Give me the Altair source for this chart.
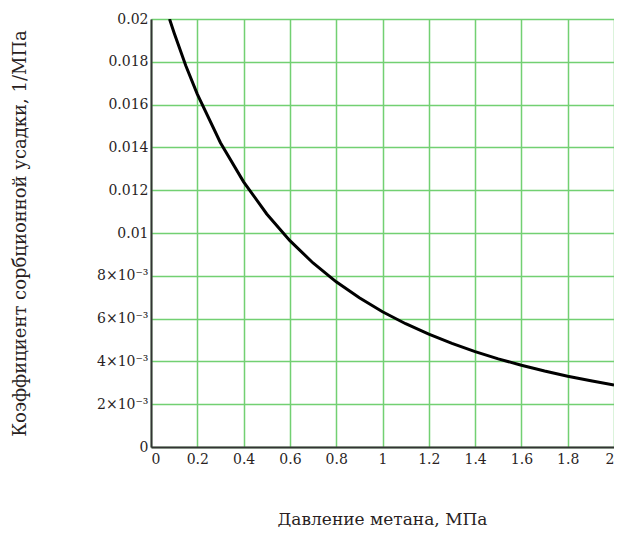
import altair as alt
import pandas as pd

# Pressure of methane, MPa
pressure = [0.08, 0.1, 0.15, 0.2, 0.3, 0.4, 0.5, 0.6, 0.7, 0.8, 0.9, 1.0,
            1.1, 1.2, 1.3, 1.4, 1.5, 1.6, 1.7, 1.8, 1.9, 2.0]
# Sorption shrinkage coefficient, 1/MPa
coef = [0.0200, 0.01935, 0.01783, 0.01649, 0.01422, 0.01239, 0.01089, 0.00964,
        0.00860, 0.00772, 0.00697, 0.00632, 0.00576, 0.00527, 0.00484, 0.00446,
        0.00412, 0.00382, 0.00355, 0.00331, 0.00310, 0.00290]

x_ticks = [0, 0.2, 0.4, 0.6, 0.8, 1.0, 1.2, 1.4, 1.6, 1.8, 2.0]
y_ticks = [0, 0.002, 0.004, 0.006, 0.008, 0.010, 0.012, 0.014, 0.016, 0.018, 0.020]

x_title = "Давление метана, МПа"
y_title = "Коэффициент сорбционной усадки, 1/МПа"

df = pd.DataFrame({"p": pressure, "k": coef})

FONT = "DejaVu Serif"
TXT = "#2a1f1f"
GRID = "#72d072"

y_label_expr = (
    "datum.value == 0 ? '0' : (datum.value < 0.0095 ? "
    "format(datum.value * 1000, '.0f') + '×10⁻³' : format(datum.value, '.3~f'))"
)

chart = alt.Chart(df).mark_line(color="black", strokeWidth=3, clip=True).encode(
    x=alt.X("p:Q",
            scale=alt.Scale(domain=[0, 2], nice=False, zero=False),
            axis=alt.Axis(values=x_ticks, title=x_title,
                          labelExpr="format(datum.value, '.1~f')",
                          grid=True, gridColor=GRID, gridWidth=1.5, gridOpacity=1,
                          ticks=False, domainColor="#333", domainWidth=2,
                          labelFont=FONT, labelFontSize=14, labelColor=TXT,
                          labelPadding=5, labelFlush=True,
                          titleFont=FONT, titleFontSize=17, titleFontWeight="normal",
                          titleColor=TXT, titleX=231, titleY=72,
                          titleAlign="center", titleBaseline="middle")),
    y=alt.Y("k:Q",
            scale=alt.Scale(domain=[0, 0.02], nice=False, zero=False),
            axis=alt.Axis(values=y_ticks, title=y_title,
                          labelExpr=y_label_expr,
                          grid=True, gridColor=GRID, gridWidth=1.5, gridOpacity=1,
                          ticks=False, domainColor="#333", domainWidth=2,
                          labelFont=FONT, labelFontSize=14, labelColor=TXT,
                          labelPadding=3, labelFlush=False,
                          titleFont=FONT, titleFontSize=18, titleFontWeight="normal",
                          titleColor=TXT, titleX=-131, titleY=214, titleAngle=-90,
                          titleAlign="center", titleBaseline="middle")),
).properties(
    width=463, height=428,
    autosize=alt.AutoSizeParams(type="none"),
    padding={"left": 143, "top": 11, "right": 0, "bottom": 80},
).configure_view(
    stroke="#222", strokeWidth=1.5
).configure(background="white")

chart.save("out.html", embed_options={"renderer": "svg", "actions": False})
